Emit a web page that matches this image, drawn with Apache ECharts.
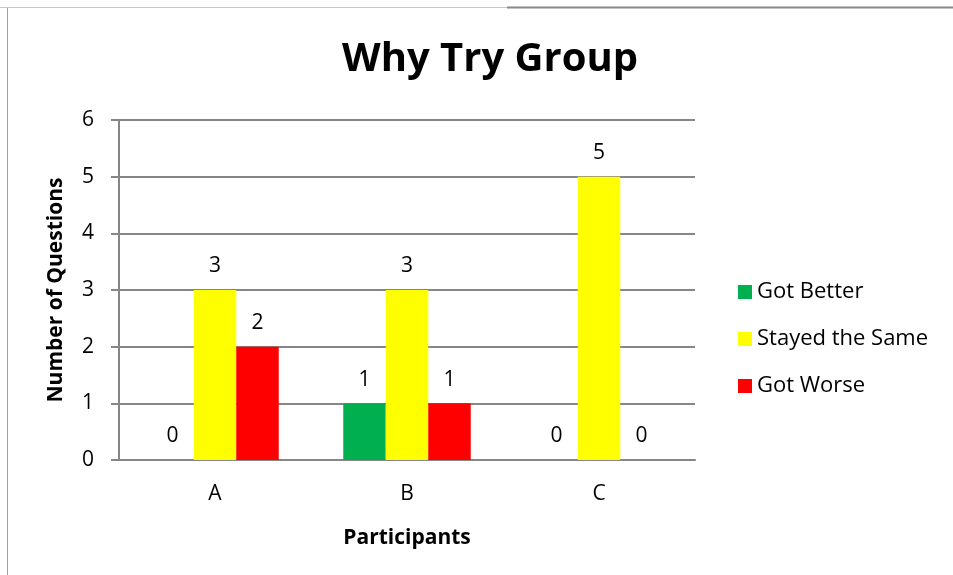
<!DOCTYPE html>
<html>
<head>
<meta charset="utf-8">
<script src="https://cdn.jsdelivr.net/npm/echarts@6/dist/echarts.min.js"></script>
<style>html,body{margin:0;padding:0;background:#fff;}#c{width:953px;height:575px;}</style>
</head>
<body>
<div id="c"></div>
<script>
const categories = ['A', 'B', 'C'];
const gotBetter = [0, 1, 0];
const stayedSame = [3, 3, 5];
const gotWorse = [2, 1, 0];
const yTicks = [0, 1, 2, 3, 4, 5, 6];

const FONT = 'Open Sans';
const chart = echarts.init(document.getElementById('c'), null, {renderer: 'canvas'});
const labelCfg = {show: true, position: 'top', distance: 13, color: '#000', fontSize: 21, fontFamily: FONT};
function mk(name, data, color) {
  return {name, type: 'bar', data, itemStyle: {color}, label: labelCfg, barGap: '0%', barCategoryGap: '33.6%'};
}
chart.setOption({
  animation: false,
  backgroundColor: '#fff',
  title: {text: 'Why Try Group', left: 485, textAlign: 'center', top: 35,
    textStyle: {fontFamily: FONT, fontWeight: 'bold', fontSize: 40, color: '#000'}},
  grid: {left: 119, right: 258, top: 120, bottom: 115},
  legend: {orient: 'vertical', left: 733, top: 276, itemWidth: 14, itemHeight: 14, itemGap: 25,
    icon: 'rect', textStyle: {fontFamily: FONT, fontSize: 22, color: '#000'},
    data: ['Got Better', 'Stayed the Same', 'Got Worse']},
  xAxis: {type: 'category', data: categories, name: 'Participants', nameLocation: 'middle', nameGap: 68,
    nameTextStyle: {fontFamily: FONT, fontWeight: 'bold', fontSize: 21, color: '#000'},
    axisLine: {lineStyle: {color: '#868686', width: 2}}, axisTick: {show: false},
    axisLabel: {fontFamily: FONT, fontSize: 21, color: '#000', margin: 24}},
  yAxis: {type: 'value', min: 0, max: 6, interval: 1, name: 'Number of Questions', nameLocation: 'middle', nameGap: 52,
    nameTextStyle: {fontFamily: FONT, fontWeight: 'bold', fontSize: 21, color: '#000'},
    axisLine: {show: true, lineStyle: {color: '#868686', width: 2}},
    axisTick: {show: true, length: 8, lineStyle: {color: '#868686', width: 2}},
    splitLine: {lineStyle: {color: '#868686', width: 2}},
    axisLabel: {fontFamily: FONT, fontSize: 21, color: '#000', margin: 25,
      formatter: v => yTicks.includes(v) ? String(v) : ''}},
  series: [mk('Got Better', gotBetter, '#00B050'), mk('Stayed the Same', stayedSame, '#FFFF00'), mk('Got Worse', gotWorse, '#FF0000')],
  graphic: [
    {type: 'line', shape: {x1: 7.5, y1: 7, x2: 7.5, y2: 575}, style: {stroke: '#a0a0a0', lineWidth: 1}},
    {type: 'line', shape: {x1: 0, y1: 7.5, x2: 507, y2: 7.5}, style: {stroke: '#c8c8c8', lineWidth: 1}},
    {type: 'line', shape: {x1: 507, y1: 7.5, x2: 953, y2: 7.5}, style: {stroke: '#888', lineWidth: 2}}
  ]
});
</script>
</body>
</html>
